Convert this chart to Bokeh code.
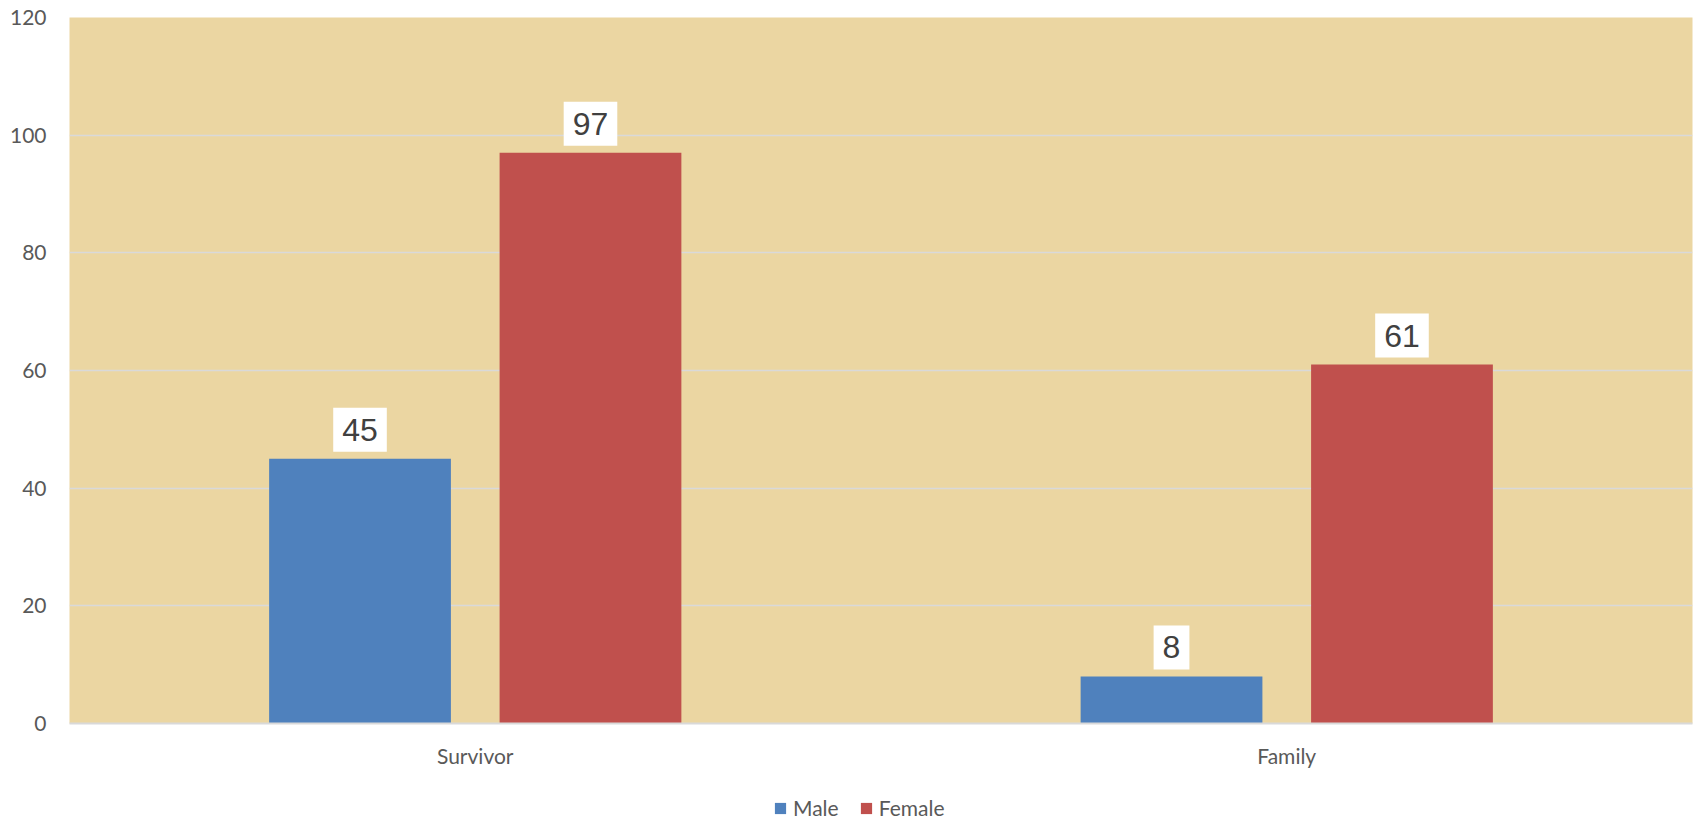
from bokeh.plotting import figure
from bokeh.layouts import column
from bokeh.models import ColumnDataSource, FactorRange, Range1d, Legend, LegendItem
from bokeh.transform import dodge
from bokeh.core.properties import value
from bokeh.embed import file_html
from bokeh.resources import INLINE

categories = ["Survivor", "Family"]
male = [45, 8]
female = [97, 61]
series_names = ["Male", "Female"]
y_ticks = [0, 20, 40, 60, 80, 100, 120]

BLUE = "#4F81BD"
RED = "#C0504D"
BG = "#EBD6A2"
GRID = "#D9D9D9"
AXTXT = "#595959"

src = ColumnDataSource(dict(
    cat=categories,
    male=male,
    female=female,
    male_lbl=[str(v) for v in male],
    female_lbl=[str(v) for v in female],
))

p = figure(
    x_range=FactorRange(*categories, range_padding=0),
    y_range=Range1d(0, 120),
    width=1694, height=770,
    output_backend="svg", toolbar_location=None,
    min_border_left=69, min_border_right=2, min_border_top=17, min_border_bottom=45,
)
p.background_fill_color = BG
p.border_fill_color = "white"
p.outline_line_color = None

OFF = 0.142
W = 0.224
r_m = p.vbar(x=dodge("cat", -OFF, range=p.x_range), top="male", width=W, bottom=0,
             source=src, fill_color=BLUE, line_color=None)
r_f = p.vbar(x=dodge("cat", OFF, range=p.x_range), top="female", width=W, bottom=0,
             source=src, fill_color=RED, line_color=None)

lbl_kw = dict(text_font=value("Liberation Sans"), text_font_size="32px", text_color="#404040",
              text_align="center", text_baseline="bottom",
              background_fill_color="white", padding=(9, 11), y_offset=-7)
p.text(x=dodge("cat", -OFF, range=p.x_range), y="male", text="male_lbl", source=src, **lbl_kw)
p.text(x=dodge("cat", OFF, range=p.x_range), y="female", text="female_lbl", source=src, **lbl_kw)

# axes
p.yaxis.ticker = y_ticks
p.yaxis.axis_line_color = None
p.yaxis.major_tick_line_color = None
p.yaxis.minor_tick_line_color = None
p.yaxis.major_tick_out = 0
p.yaxis.major_label_standoff = 23
p.yaxis.major_label_text_font = "Lato"
p.yaxis.major_label_text_font_size = "21px"
p.yaxis.major_label_text_color = AXTXT

p.xaxis.axis_line_color = GRID
p.xaxis.axis_line_width = 2
p.xaxis.major_tick_line_color = None
p.xaxis.minor_tick_line_color = None
p.xaxis.major_tick_out = 0
p.xaxis.major_label_standoff = 19
p.xaxis.major_label_text_font = "Lato"
p.xaxis.major_label_text_font_size = "21px"
p.xaxis.major_label_text_color = AXTXT

p.xgrid.grid_line_color = None
p.ygrid.ticker = y_ticks
p.ygrid.grid_line_color = GRID
p.ygrid.grid_line_width = 1.5

# legend strip below the chart (zero-height bars only provide the legend swatches)
lg = figure(width=1694, height=50, output_backend="svg", toolbar_location=None,
            x_range=FactorRange(*categories, range_padding=0), y_range=Range1d(0, 1),
            x_axis_location=None, y_axis_location=None,
            min_border_left=0, min_border_right=0, min_border_top=0, min_border_bottom=0)
lg.outline_line_color = None
lg.grid.visible = False
lg.background_fill_color = "white"
lg.border_fill_color = "white"
lm = lg.vbar(x="cat", top=0, bottom=0, width=W, source=src, fill_color=BLUE, line_color=None)
lf = lg.vbar(x="cat", top=0, bottom=0, width=W, source=src, fill_color=RED, line_color=None)

legend = Legend(
    items=[LegendItem(label=series_names[0], renderers=[lm]),
           LegendItem(label=series_names[1], renderers=[lf])],
    orientation="horizontal", location=(704, 0),
    padding=0, margin=0, spacing=20, label_standoff=6,
    glyph_width=14, glyph_height=14, label_height=21,
    label_text_font="Lato", label_text_font_size="21px", label_text_color=AXTXT,
    background_fill_alpha=0, border_line_color=None,
)
lg.add_layout(legend, "center")

layout = column(p, lg, spacing=0)
open("out.html", "w").write(file_html(layout, INLINE))
